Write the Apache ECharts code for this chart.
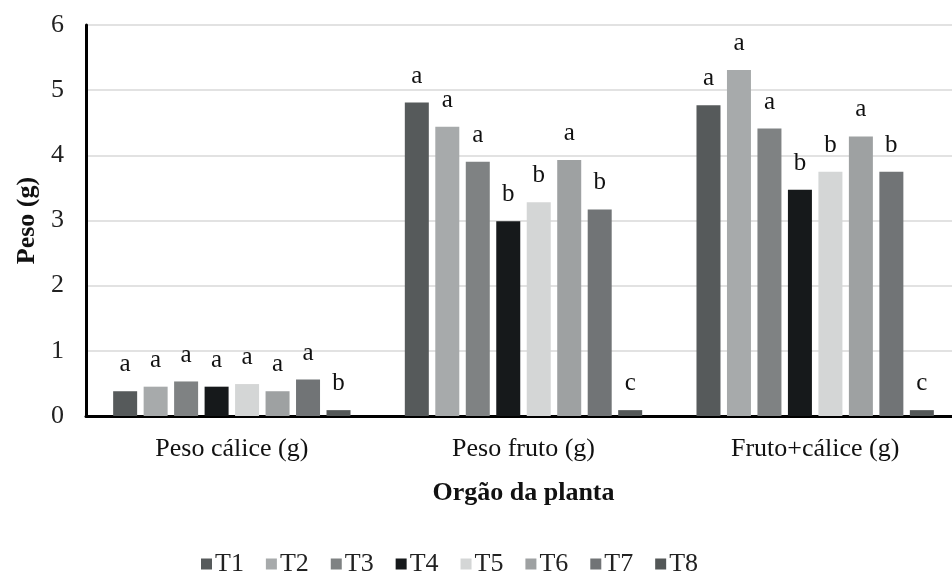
<!DOCTYPE html>
<html>
<head>
<meta charset="utf-8">
<script src="https://cdn.jsdelivr.net/npm/echarts@6/dist/echarts.min.js"></script>
<style>
  html, body { margin: 0; padding: 0; background: #fff; }
  #chart { width: 952px; height: 581px; }
</style>
</head>
<body>
<div id="chart"></div>
<script>
// Plant organs on the category axis
const categories = ['Peso cálice (g)', 'Peso fruto (g)', 'Fruto+cálice (g)'];

// Mean weight (g) per treatment, one value per organ
const T1 = [0.38, 4.81, 4.77];
const T2 = [0.45, 4.44, 5.31];
const T3 = [0.53, 3.90, 4.41];
const T4 = [0.45, 2.99, 3.47];
const T5 = [0.49, 3.28, 3.75];
const T6 = [0.38, 3.93, 4.29];
const T7 = [0.56, 3.17, 3.75];
const T8 = [0.09, 0.09, 0.09];

// Significance letters above each bar
const L1 = ['a', 'a', 'a'];
const L2 = ['a', 'a', 'a'];
const L3 = ['a', 'a', 'a'];
const L4 = ['a', 'b', 'b'];
const L5 = ['a', 'b', 'b'];
const L6 = ['a', 'a', 'a'];
const L7 = ['a', 'b', 'b'];
const L8 = ['b', 'c', 'c'];

const treatmentNames = ['T1', 'T2', 'T3', 'T4', 'T5', 'T6', 'T7', 'T8'];
const treatmentValues = [T1, T2, T3, T4, T5, T6, T7, T8];
const treatmentLetters = [L1, L2, L3, L4, L5, L6, L7, L8];
const treatmentColors = ['#565a5b', '#a7aaab', '#7f8283', '#16191b', '#d4d6d6', '#9ea1a2', '#717476', '#535757'];

const yTicks = [0, 1, 2, 3, 4, 5, 6];

const serif = '"Liberation Serif", "Times New Roman", serif';

const series = treatmentNames.map((name, i) => ({
  name: name,
  type: 'bar',
  barWidth: 24,
  barGap: '27%',
  itemStyle: { color: treatmentColors[i] },
  label: {
    show: true,
    position: 'top',
    distance: 14,
    fontFamily: serif,
    fontSize: 25,
    color: '#111',
    formatter: p => treatmentLetters[i][p.dataIndex]
  },
  data: treatmentValues[i]
}));

const chart = echarts.init(document.getElementById('chart'));
chart.setOption({
  animation: false,
  backgroundColor: '#fff',
  // the plot area runs slightly past the right edge of the canvas
  grid: { left: 86, width: 875, top: 25, bottom: 165, outerBoundsMode: 'none', containLabel: false },
  legend: {
    data: treatmentNames,
    left: 196,
    top: 546,
    icon: 'rect',
    itemWidth: 11,
    itemHeight: 11,
    itemGap: 22,
    textStyle: { fontFamily: serif, fontSize: 26, color: '#222', padding: [0, 0, 0, -2] }
  },
  xAxis: {
    type: 'category',
    data: categories,
    name: 'Orgão da planta',
    nameLocation: 'middle',
    nameGap: 64,
    nameTextStyle: { fontFamily: serif, fontSize: 26, fontWeight: 'bold', color: '#111' },
    axisLine: { lineStyle: { color: '#000', width: 3 } },
    axisTick: { show: false },
    axisLabel: { fontFamily: serif, fontSize: 26, color: '#111', margin: 20 }
  },
  yAxis: {
    type: 'value',
    min: yTicks[0],
    max: yTicks[yTicks.length - 1],
    interval: 1,
    name: 'Peso (g)',
    nameLocation: 'middle',
    nameGap: 46,
    nameTextStyle: { fontFamily: serif, fontSize: 26, fontWeight: 'bold', color: '#111' },
    axisLine: { show: true, lineStyle: { color: '#000', width: 3 } },
    axisTick: { show: false },
    axisLabel: { fontFamily: serif, fontSize: 26, color: '#222', margin: 22 },
    splitLine: { lineStyle: { color: '#d9d9d9', width: 1.5 } }
  },
  series: series
});
</script>
</body>
</html>
